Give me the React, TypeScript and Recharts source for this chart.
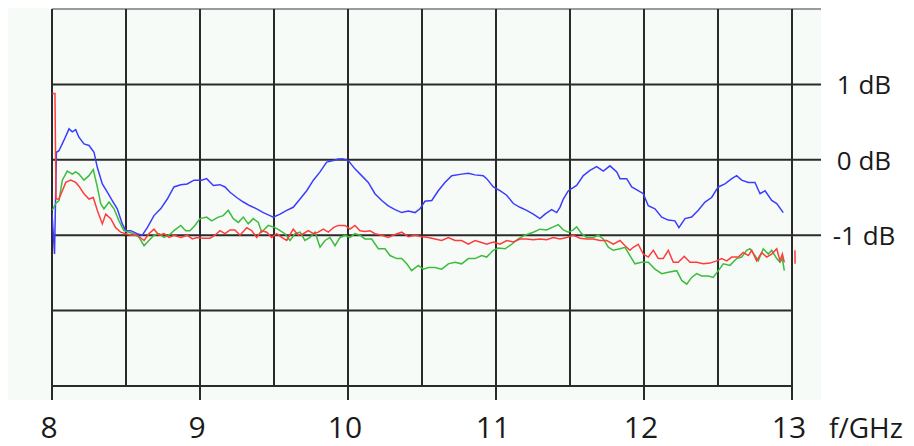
import React from 'react';
import { LineChart, Line, XAxis, YAxis, ReferenceLine } from 'recharts';

// [f in GHz, level in dB]
const blue: [number, number][] = [
  [8.0, -0.7], [8.017, -1.25], [8.03, 0.1], [8.047, 0.12], [8.081, 0.26], [8.115, 0.41],
  [8.137, 0.37], [8.16, 0.4], [8.182, 0.3], [8.216, 0.21], [8.25, 0.19], [8.284, 0.1],
  [8.306, -0.1], [8.34, -0.32], [8.374, -0.43], [8.407, -0.54], [8.441, -0.65], [8.475, -0.85],
  [8.498, -0.94], [8.532, -0.94], [8.576, -0.98], [8.61, -1.0], [8.644, -0.9], [8.689, -0.74],
  [8.734, -0.65], [8.779, -0.52], [8.824, -0.36], [8.87, -0.33], [8.914, -0.32], [8.959, -0.27],
  [9.011, -0.27], [9.045, -0.25], [9.09, -0.34], [9.135, -0.33], [9.169, -0.36], [9.203, -0.43],
  [9.248, -0.5], [9.293, -0.56], [9.338, -0.61], [9.383, -0.65], [9.428, -0.7], [9.473, -0.74],
  [9.495, -0.76], [9.541, -0.72], [9.586, -0.67], [9.63, -0.63], [9.676, -0.52], [9.721, -0.41],
  [9.766, -0.27], [9.811, -0.16], [9.856, -0.03], [9.901, -0.01], [9.934, 0.01], [9.968, 0.01],
  [10.002, -0.01], [10.047, -0.12], [10.092, -0.21], [10.137, -0.3], [10.182, -0.45], [10.228, -0.54],
  [10.272, -0.61], [10.318, -0.66], [10.363, -0.7], [10.407, -0.68], [10.453, -0.7], [10.486, -0.65],
  [10.52, -0.55], [10.566, -0.54], [10.61, -0.41], [10.655, -0.3], [10.701, -0.21], [10.768, -0.19],
  [10.813, -0.18], [10.858, -0.2], [10.914, -0.21], [10.937, -0.25], [10.982, -0.36], [11.027, -0.41],
  [11.072, -0.47], [11.117, -0.58], [11.162, -0.63], [11.207, -0.67], [11.252, -0.72], [11.297, -0.78],
  [11.331, -0.72], [11.376, -0.66], [11.41, -0.7], [11.432, -0.63], [11.455, -0.52], [11.489, -0.41],
  [11.545, -0.34], [11.59, -0.21], [11.635, -0.14], [11.68, -0.09], [11.725, -0.15], [11.77, -0.08],
  [11.816, -0.16], [11.838, -0.25], [11.883, -0.25], [11.917, -0.36], [11.961, -0.41], [11.995, -0.45],
  [12.029, -0.61], [12.074, -0.65], [12.12, -0.76], [12.164, -0.8], [12.209, -0.81], [12.236, -0.9],
  [12.277, -0.78], [12.322, -0.76], [12.367, -0.67], [12.412, -0.56], [12.457, -0.5], [12.502, -0.36],
  [12.547, -0.32], [12.593, -0.25], [12.626, -0.21], [12.66, -0.27], [12.705, -0.3], [12.75, -0.3],
  [12.784, -0.45], [12.818, -0.41], [12.863, -0.54], [12.897, -0.58], [12.93, -0.67], [12.941, -0.7],
];

const green: [number, number][] = [
  [8.002, -0.67], [8.025, -0.58], [8.047, -0.54], [8.07, -0.27], [8.103, -0.15], [8.137, -0.19],
  [8.16, -0.16], [8.182, -0.19], [8.216, -0.27], [8.25, -0.21], [8.279, -0.13], [8.306, -0.36],
  [8.329, -0.58], [8.351, -0.65], [8.385, -0.56], [8.419, -0.65], [8.453, -0.81], [8.486, -0.94],
  [8.52, -0.96], [8.554, -0.98], [8.588, -1.03], [8.622, -1.14], [8.655, -1.07], [8.689, -1.0],
  [8.723, -0.98], [8.757, -1.03], [8.791, -1.0], [8.824, -0.94], [8.87, -0.87], [8.903, -0.94],
  [8.932, -0.94], [8.966, -0.87], [9.0, -0.78], [9.045, -0.76], [9.079, -0.81], [9.124, -0.76],
  [9.157, -0.74], [9.191, -0.67], [9.225, -0.78], [9.259, -0.83], [9.293, -0.76], [9.326, -0.85],
  [9.36, -0.78], [9.394, -0.83], [9.417, -0.96], [9.461, -0.87], [9.507, -0.9], [9.541, -0.94],
  [9.574, -0.98], [9.608, -1.07], [9.642, -0.98], [9.676, -0.96], [9.709, -1.07], [9.743, -1.03],
  [9.777, -0.96], [9.811, -1.16], [9.845, -1.07], [9.878, -1.03], [9.912, -1.14], [9.946, -1.03],
  [9.98, -1.0], [10.014, -1.03], [10.047, -0.98], [10.081, -1.0], [10.115, -1.05], [10.16, -1.05],
  [10.205, -1.18], [10.25, -1.18], [10.284, -1.27], [10.329, -1.31], [10.363, -1.31], [10.397, -1.38],
  [10.43, -1.47], [10.475, -1.4], [10.509, -1.45], [10.543, -1.43], [10.588, -1.43], [10.633, -1.45],
  [10.678, -1.38], [10.723, -1.36], [10.768, -1.38], [10.813, -1.31], [10.858, -1.31], [10.903, -1.27],
  [10.937, -1.29], [10.982, -1.2], [11.016, -1.17], [11.061, -1.18], [11.106, -1.12], [11.151, -1.05],
  [11.196, -1.0], [11.252, -0.96], [11.297, -0.92], [11.342, -0.93], [11.387, -0.89], [11.421, -0.86],
  [11.455, -0.93], [11.489, -0.96], [11.522, -0.93], [11.545, -0.89], [11.579, -0.98], [11.613, -1.03],
  [11.657, -1.03], [11.691, -1.0], [11.725, -1.05], [11.759, -1.16], [11.793, -1.2], [11.838, -1.18],
  [11.872, -1.16], [11.905, -1.27], [11.939, -1.38], [11.984, -1.36], [12.029, -1.36], [12.074, -1.45],
  [12.12, -1.51], [12.164, -1.49], [12.221, -1.47], [12.255, -1.6], [12.289, -1.65], [12.322, -1.56],
  [12.356, -1.51], [12.39, -1.54], [12.434, -1.54], [12.468, -1.56], [12.502, -1.47], [12.536, -1.38],
  [12.581, -1.4], [12.626, -1.31], [12.66, -1.29], [12.694, -1.2], [12.716, -1.18], [12.75, -1.27],
  [12.772, -1.34], [12.806, -1.18], [12.84, -1.25], [12.863, -1.2], [12.897, -1.31], [12.919, -1.36],
  [12.935, -1.31], [12.948, -1.47],
];

const red: [number, number | null][] = [
  [8.002, 0.88], [8.02, 0.88], [8.027, -0.52], [8.047, -0.52], [8.07, -0.41], [8.093, -0.3],
  [8.126, -0.27], [8.16, -0.3], [8.182, -0.35], [8.216, -0.45], [8.25, -0.52], [8.279, -0.5],
  [8.306, -0.67], [8.34, -0.85], [8.363, -0.72], [8.397, -0.78], [8.43, -0.9], [8.464, -0.96],
  [8.498, -0.98], [8.532, -1.0], [8.576, -1.0], [8.622, -1.07], [8.655, -0.98], [8.689, -0.92],
  [8.723, -1.0], [8.757, -0.98], [8.791, -1.03], [8.824, -1.0], [8.87, -1.03], [8.914, -1.0],
  [8.948, -1.05], [8.978, -1.03], [9.022, -1.04], [9.068, -1.04], [9.101, -1.0], [9.135, -0.94],
  [9.169, -0.98], [9.203, -0.93], [9.236, -0.93], [9.27, -1.0], [9.316, -0.9], [9.349, -0.94],
  [9.383, -1.03], [9.417, -0.94], [9.451, -0.96], [9.484, -1.03], [9.518, -0.98], [9.552, -1.03],
  [9.586, -1.07], [9.63, -0.92], [9.664, -1.0], [9.698, -0.98], [9.732, -0.94], [9.766, -0.98],
  [9.799, -0.96], [9.833, -0.92], [9.867, -0.96], [9.901, -0.9], [9.934, -0.87], [9.98, -0.87],
  [10.014, -0.92], [10.047, -0.87], [10.081, -0.94], [10.115, -0.95], [10.149, -0.94], [10.182, -0.98],
  [10.228, -1.0], [10.272, -1.03], [10.318, -0.99], [10.363, -0.96], [10.407, -1.02], [10.453, -1.0],
  [10.498, -1.02], [10.543, -1.03], [10.588, -1.05], [10.633, -1.07], [10.678, -1.03], [10.723, -1.07],
  [10.768, -1.07], [10.813, -1.12], [10.858, -1.07], [10.892, -1.09], [10.937, -1.12], [10.982, -1.09],
  [11.027, -1.12], [11.072, -1.07], [11.117, -1.09], [11.162, -1.05], [11.207, -1.05], [11.252, -1.06],
  [11.297, -1.05], [11.342, -1.06], [11.387, -1.03], [11.432, -1.05], [11.478, -1.03], [11.522, -1.0],
  [11.568, -1.04], [11.613, -1.05], [11.657, -1.05], [11.703, -1.07], [11.748, -1.07], [11.793, -1.12],
  [11.838, -1.07], [11.872, -1.14], [11.905, -1.2], [11.928, -1.16], [11.961, -1.12], [11.995, -1.25],
  [12.029, -1.29], [12.063, -1.2], [12.097, -1.31], [12.13, -1.31], [12.164, -1.2], [12.198, -1.36],
  [12.232, -1.36], [12.272, -1.28], [12.311, -1.36], [12.356, -1.36], [12.401, -1.38], [12.446, -1.37],
  [12.491, -1.34], [12.525, -1.31], [12.559, -1.34], [12.593, -1.29], [12.637, -1.29], [12.671, -1.23],
  [12.705, -1.27], [12.728, -1.2], [12.761, -1.34], [12.795, -1.23], [12.829, -1.29], [12.863, -1.25],
  [12.897, -1.18], [12.919, -1.34], [12.935, -1.25], [12.948, -1.36],
  [12.98, null], [13.02, -1.2], [13.021, -1.38],
];

const freqTicks = [8, 9, 10, 11, 12, 13];
const gridFreqs = [8, 8.5, 9, 9.5, 10, 10.5, 11, 11.5, 12, 12.5, 13];
const fullLevels = [1, 0, -1];
const shortLevels = [-2, -3];
const levelTicks = [1, 0, -1];

const toRows = (pts: [number, number | null][]) => pts.map(([f, db]) => ({ f, db }));

const FONT = '"Open Sans", sans-serif';
const INK = '#1a1a1a';
const GRID = '#2a2a2a';

const FreqTick = (props: any) => {
  const { x, y, payload } = props;
  return (
    <text x={x - 3} y={y + 36} textAnchor="middle" fontSize={30} fill={INK} fontFamily={FONT}>
      {payload.value}
    </text>
  );
};

const LevelTick = (props: any) => {
  const { x, y, payload } = props;
  return (
    <text x={x + 35} y={y} textAnchor="middle" dominantBaseline="central" fontSize={26} fill={INK} fontFamily={FONT}>
      {`${payload.value} dB`}
    </text>
  );
};

const UnitLabel = (props: any) => {
  const { viewBox } = props;
  return (
    <text x={viewBox.x + viewBox.width + 8} y={viewBox.y + 52} fontSize={28} fill={INK} fontFamily={FONT}>
      f/GHz
    </text>
  );
};

export default function App() {
  return (
    <div style={{ position: 'relative', width: 906, height: 430 }}>
      <div style={{ position: 'absolute', left: 0, top: 0, width: 813, height: 392, background: '#f7fbf7' }} />
      <LineChart
        width={906}
        height={438}
        margin={{ top: 1, right: 0, left: 44, bottom: 0 }}
        style={{ position: 'absolute', left: 0, top: 0 }}
      >
        <XAxis
          type="number"
          dataKey="f"
          domain={[8, 13.196]}
          ticks={freqTicks}
          allowDataOverflow
          axisLine={false}
          tickLine={{ stroke: GRID, strokeWidth: 2 }}
          tickSize={14}
          height={60}
          tick={<FreqTick />}
          label={{ content: <UnitLabel /> }}
        />
        <YAxis
          orientation="right"
          type="number"
          domain={[-3, 2]}
          ticks={levelTicks}
          axisLine={false}
          tickLine={false}
          width={93}
          tick={<LevelTick />}
        />
        <ReferenceLine y={2} stroke="#9a9a9a" strokeWidth={2} />
        {fullLevels.map((v) => (
          <ReferenceLine key={`h${v}`} y={v} stroke={GRID} strokeWidth={2} />
        ))}
        {shortLevels.map((v) => (
          <ReferenceLine key={`s${v}`} segment={[{ x: 8, y: v }, { x: 13, y: v }]} stroke={GRID} strokeWidth={2} />
        ))}
        {gridFreqs.map((v) => (
          <ReferenceLine key={`v${v}`} x={v} stroke={GRID} strokeWidth={2} />
        ))}
        <Line data={toRows(blue)} dataKey="db" type="linear" stroke="#3c3cff" strokeWidth={1.5} dot={false} isAnimationActive={false} />
        <Line data={toRows(green)} dataKey="db" type="linear" stroke="#3cbc3c" strokeWidth={1.5} dot={false} isAnimationActive={false} />
        <Line data={toRows(red)} dataKey="db" type="linear" stroke="#ff3c3c" strokeWidth={1.5} dot={false} isAnimationActive={false} />
      </LineChart>
    </div>
  );
}
